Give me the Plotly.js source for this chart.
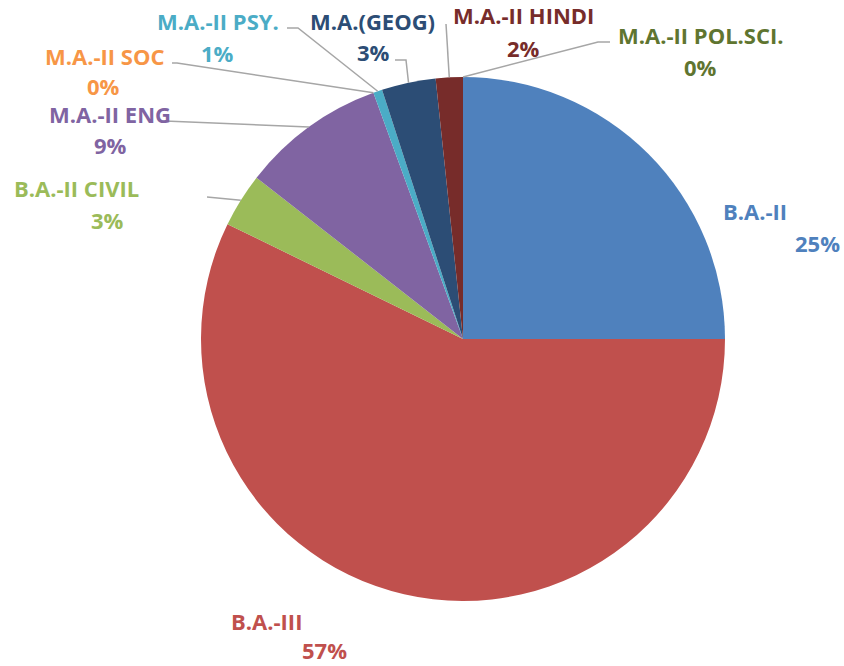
<!DOCTYPE html>
<html><head><meta charset="utf-8">
<script src="https://cdn.plot.ly/plotly-3.0.1.min.js"></script>
<style>html,body{margin:0;padding:0;background:#fff}</style>
</head><body><div id="chart" style="width:844px;height:666px"></div>
<script>
const categories = ['B.A.-II','B.A.-III','B.A.-II CIVIL','M.A.-II ENG','M.A.-II SOC','M.A.-II PSY.','M.A.(GEOG)','M.A.-II HINDI','M.A.-II POL.SCI.'];
const counts = [45,103,6,16,0,1,6,3,0];
const colors = ['#4F81BD','#C0504D','#9BBB59','#8064A2','#F79646','#4BACC6','#2C4D75','#772C2A','#5F7530'];

// layout (pixels)
const W = 844, H = 666, CX = 463, CY = 339, R = 262;
const namePos = [[755,211],[266,621],[76,188],[110,114],[104,56],[218,21],[372,21],[523,15],[701,35]];
const pctPos  = [[817,243],[324,650],[107,220],[110,145],[103,86],[217,53],[373,52],[523,48],[700,67]];
const leaderPts = [null,null,[[207,197]],[[165,121]],[[172,63],[177,63]],[[287,28],[298,28]],[[395,60],[406,60]],[[446,24]],[[610,42],[598,42]]];
const FONT = 'Open Sans, Noto Sans, sans-serif';
const FSIZE = 22;

const px = x => x / W;
const py = y => 1 - y / H;
const total = counts.reduce((a, b) => a + b, 0);

// slice mid-angle edge points (clockwise from 12 o'clock)
let cum = 0;
const edge = counts.map(v => {
  const mid = (cum + v / 2) / total * 2 * Math.PI;
  cum += v;
  return [CX + R * Math.sin(mid), CY - R * Math.cos(mid)];
});

const annotations = [];
const shapes = [];
categories.forEach((c, i) => {
  const pct = Math.round(counts[i] / total * 100) + '%';
  annotations.push({xref:'paper', yref:'paper', x:px(namePos[i][0]), y:py(namePos[i][1]), xanchor:'center', yanchor:'middle',
    text:'<b>' + c + '</b>', showarrow:false, borderpad:0, font:{family:FONT, size:FSIZE, color:colors[i]}});
  annotations.push({xref:'paper', yref:'paper', x:px(pctPos[i][0]), y:py(pctPos[i][1]), xanchor:'center', yanchor:'middle',
    text:'<b>' + pct + '</b>', showarrow:false, borderpad:0, font:{family:FONT, size:FSIZE, color:colors[i]}});
  if (leaderPts[i]) {
    const pts = leaderPts[i].concat([edge[i]]);
    const path = pts.map((p, k) => (k ? 'L ' : 'M ') + px(p[0]) + ' ' + py(p[1])).join(' ');
    shapes.push({type:'path', xref:'paper', yref:'paper', path:path, line:{color:'#A6A6A6', width:1.5}});
  }
});

const trace = {
  type:'pie', values:counts, labels:categories, sort:false, direction:'clockwise', rotation:0,
  textinfo:'none', hoverinfo:'label+percent',
  marker:{colors:colors, line:{width:0}},
  domain:{x:[px(CX - R), px(CX + R)], y:[py(CY + R), py(CY - R)]},
  showlegend:false
};

Plotly.newPlot('chart', [trace], {
  width:W, height:H, margin:{l:0, r:0, t:0, b:0},
  paper_bgcolor:'#ffffff', plot_bgcolor:'#ffffff',
  showlegend:false, annotations:annotations, shapes:shapes
}, {displayModeBar:false, staticPlot:true});
</script></body></html>
